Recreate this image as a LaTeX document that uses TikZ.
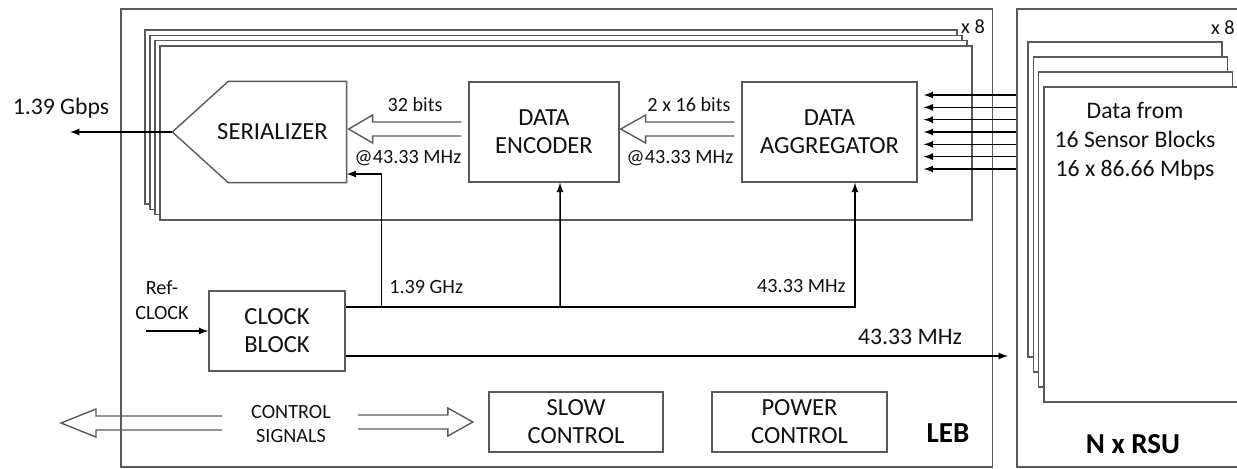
\documentclass[tikz,border=0pt]{standalone}
\usepackage{fontspec}
\setmainfont{Carlito}
\usetikzlibrary{calc}

\definecolor{edge}{HTML}{5A5A5A}
\definecolor{ink}{HTML}{111111}

% hollow arrow: tail, tip, head length
\newcommand{\fatarrow}[3]{%
  \draw[outline] let \p1=#1, \p2=#2, \n1={ifthenelse(\x1>\x2,1,-1)} in
    (\x1,{\y2+0.14cm}) -- ({\x2+(\n1)*#3},{\y2+0.14cm}) -- ({\x2+(\n1)*#3},{\y2+0.28cm}) -- (\x2,\y2)
    -- ({\x2+(\n1)*#3},{\y2-0.28cm}) -- ({\x2+(\n1)*#3},{\y2-0.14cm}) -- (\x1,{\y2-0.14cm});}

\begin{document}
\begin{tikzpicture}[x=0.02cm, y=-0.02cm,
    frame/.style={draw=edge, line width=0.9pt, inner sep=0pt, anchor=north west},
    card/.style={draw=edge, line width=0.8pt, fill=white},
    blk/.style={draw=edge, line width=0.8pt, inner sep=0pt, align=center, text=ink, font=\fontsize{14}{16}\selectfont},
    lbl/.style={inner sep=0pt, align=center, text=ink, font=\fontsize{11.5}{14.2}\selectfont},
    big/.style={inner sep=0pt, align=center, text=ink, font=\fontsize{13.5}{16.5}\selectfont},
    title/.style={inner sep=0pt, text=black, font=\bfseries\fontsize{16.5}{20}\selectfont},
    outline/.style={draw=edge, line width=0.8pt},
    sig/.style={line width=0.85pt, -latex}]

        \path[use as bounding box, clip] (0,0) rectangle (1237,468);

        % Boards
        \node[frame, minimum width=17.44cm, minimum height=9.17cm] (leb) at (120,8) {};
        \node[frame, minimum width=4.8cm, minimum height=9.17cm] (rsu) at (1016,8) {};

        % Stacked lanes on the LEB
        \foreach \k in {0,...,3}
            \draw[card] (145+5*\k,30+5.3*\k) rectangle ++(812,174);
        \node[lbl] (lanes) at (973,27) {x 8};

        % Stacked readout cards
        \foreach \k in {0,...,3}
            \draw[card] (1028+5.3*\k,42+15*\k) rectangle ++(194,315);
        \node[lbl, anchor=east] (cards) at (1235,28) {x 8};
        \node[big] (rsudata) at (1135,141) {Data from\\16 Sensor Blocks\\16 x 86.66 Mbps};

        % Blocks
        \node[blk, draw=none, minimum width=2.94cm, minimum height=2cm] (ser) at (272.5,132) {SERIALIZER};
        \coordinate (sertip) at ([xshift=-0.52cm]ser.west);
        \draw[outline] ([xshift=0.6cm]ser.north west) -- (ser.north east) -- (ser.south east)
            -- ([xshift=0.6cm]ser.south west) -- (sertip) -- cycle;
        \node[blk, minimum width=3cm, minimum height=2cm] (enc) at (544,132) {DATA\\ENCODER};
        \node[blk, minimum width=3.5cm, minimum height=2cm] (agg) at (829.5,132) {DATA\\AGGREGATOR};
        \node[blk, minimum width=2.72cm, minimum height=1.6cm] (clk) at (277,331) {CLOCK\\BLOCK};
        \node[blk, minimum width=3.48cm, minimum height=1.2cm] (slow) at (576,422) {SLOW\\CONTROL};
        \node[blk, minimum width=3.5cm, minimum height=1.2cm] (power) at (799.5,422) {POWER\\CONTROL};

        % Data path
        \fatarrow{([xshift=-0.14cm]agg.west)}{([xshift=0.02cm,yshift=0.06cm]enc.east)}{0.5cm}
        \fatarrow{([xshift=-0.14cm]enc.west)}{([xshift=0.04cm,yshift=0.06cm]ser.east)}{0.48cm}
        \node[lbl] (w32) at (415,105) {32 bits};
        \node[lbl] (f32) at (408,158) {@43.33 MHz};
        \node[lbl] (w16) at (689,105) {2 x 16 bits};
        \node[lbl] (f16) at (680,158) {@43.33 MHz};

        % Sensor inputs
        \foreach \i in {0,...,6}
            \draw[sig] ($(agg.east -| rsu.west)+(0,{(\i-3)*12.33})$) -- ($(agg.east)+(6,{(\i-3)*12.33})$);

        % Serial output
        \node[big] (gbps) at (61,108) {1.39 Gbps};
        \coordinate (out) at (70,132);
        \draw[sig] (sertip) -- (out);

        % Clock distribution
        \coordinate (clkup) at ([yshift=0.48cm]clk.east);
        \coordinate (clklo) at ([yshift=-0.5cm]clk.east);
        \draw[sig] (clkup) -| ([xshift=0.51cm]agg.south);
        \draw[sig] ($(clkup -| enc.south)+(16,0)$) -- ([xshift=0.32cm]enc.south);
        \draw[sig] ($(clkup)+(36,0)$) |- ([yshift=-0.84cm]ser.east);
        \draw[sig] (clklo) -- ($(clklo -| rsu.west)+(-8,0)$);
        \node[lbl, anchor=west] (fser) at (389,287) {1.39 GHz};
        \node[lbl, anchor=east] (fagg) at (846,286) {43.33 MHz};
        \node[big] (frsu) at (910,337) {43.33 MHz};

        % Reference clock
        \node[lbl] (ref) at (162,300) {Ref-\\CLOCK};
        \draw[sig] ($(clk.west)+(-62,0)$) -- (clk.west);

        % Control signals
        \node[lbl] (ctrl) at (291,424) {CONTROL\\SIGNALS};
        \coordinate (ctrlout) at (61,423);
        \fatarrow{([xshift=-0.58cm]ctrl.west)}{(ctrlout)}{0.7cm}
        \fatarrow{([xshift=0.54cm]ctrl.east)}{([xshift=-0.31cm]slow.west)}{0.5cm}

        % Board names
        \node[title] (lebname) at (948,433) {LEB};
        \node[title] (rsuname) at (1133,444) {N x RSU};
    \end{tikzpicture}
\end{document}
